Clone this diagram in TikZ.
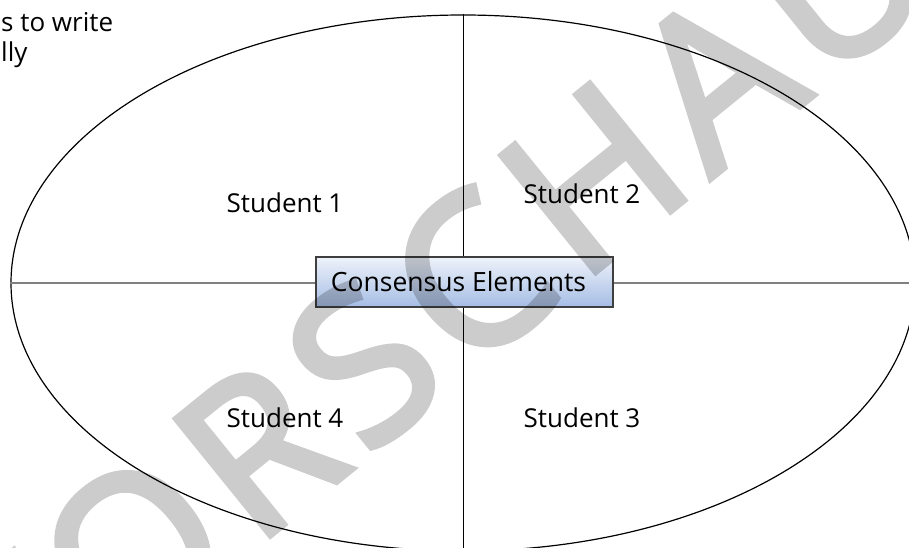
\documentclass[tikz,border=0pt]{standalone}
\usepackage{fontspec}
\setmainfont{Open Sans}
\newfontfamily\stampfont[AutoFakeBold=3, LetterSpace=6.5]{Open Sans}
\usetikzlibrary{shapes.geometric}
\definecolor{boxtop}{HTML}{EEF2FA}
\definecolor{boxbot}{HTML}{A5BDE4}
\definecolor{boxline}{HTML}{3F3F3F}
\definecolor{axisgray}{HTML}{808080}
\begin{document}
\begin{tikzpicture}[x=1pt, y=-1pt,
  txt/.style={font=\fontsize{26}{32}\selectfont, inner sep=0pt, anchor=base},
  oval/.style={ellipse, draw, line width=1.2pt, minimum width=904pt, minimum height=536pt, inner sep=0pt},
  centre/.style={draw=boxline, line width=1.2pt, top color=boxtop, bottom color=boxbot, minimum width=297pt, minimum height=50pt, inner sep=0pt, font=\fontsize{26.5}{32}\selectfont},
  vline/.style={line width=0.8pt},
  hline/.style={draw=axisgray, line width=1.2pt},
  stamp/.style={font=\stampfont\bfseries\fontsize{210}{210}\selectfont, text=black, rotate=39, anchor=base, inner sep=0pt}]
\useasboundingbox (0,0) rectangle (909,548);
\clip (0,0) rectangle (909,548);

\node[oval] (rim) at (463,283) {};
\draw[vline] (rim.north) -- (rim.south);
\draw[hline] (rim.west) -- (rim.east);
\node[centre] (cons) at (464.5,282) {Consensus Elements\hspace*{12pt}};

\foreach \n/\x/\y in {1/285/212, 2/582/203, 3/582/427, 4/285/427}
{
    \node[txt] (s\n) at (\x,\y) {Student \n};
}

\node[txt, anchor=base west] (frag1) at (1,32) {s to write};
\node[txt, anchor=base west] (frag2) at (1,62) {lly};

% watermark
\begin{scope}[transparency group, opacity=0.2]
\node[stamp] (wm) at (477,368) {VORSCHAU};
\end{scope}
\end{tikzpicture}
\end{document}
